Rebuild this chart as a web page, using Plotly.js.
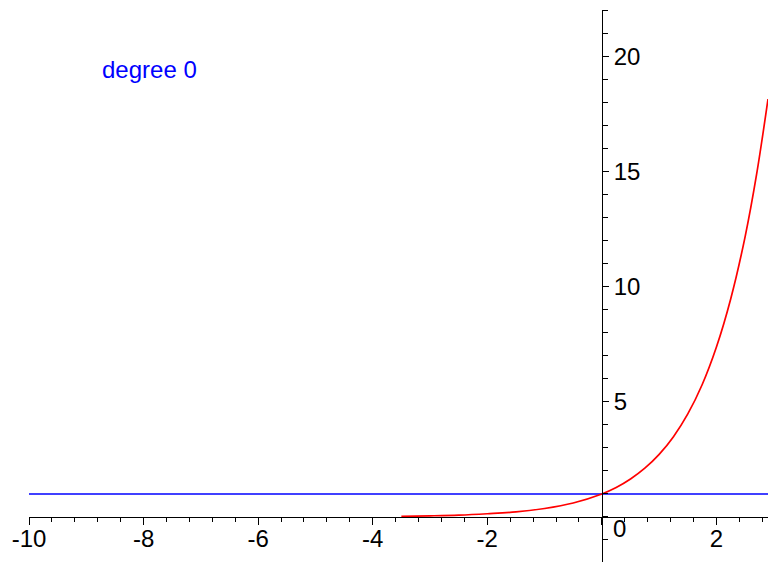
<!DOCTYPE html>
<html>
<head>
<meta charset="utf-8">
<script src="https://cdn.plot.ly/plotly-3.0.1.min.js"></script>
<style>html,body{margin:0;padding:0;background:#fff;}#chart{width:768px;height:562px;}</style>
</head>
<body>
<div id="chart"></div>
<script>
// exp(x) curve (red)
const expX = [-3.5, -3, -2.5, -2, -1.5, -1, -0.5, 0, 0.25, 0.5, 0.75, 1, 1.25, 1.5, 1.75, 2, 2.25, 2.5, 2.7, 2.9];
const expY = [0.03, 0.05, 0.08, 0.14, 0.22, 0.37, 0.61, 1, 1.28, 1.65, 2.12, 2.72, 3.49, 4.48, 5.75, 7.39, 9.49, 12.18, 14.88, 18.17];
// degree 0 Taylor polynomial (blue)
const polyX = [-10, 2.9];
const polyY = [1, 1];
// tick labels
const xTickVals = [-10, -8, -6, -4, -2, 0, 2];
const xTickText = ['-10', '-8', '-6', '-4', '-2', '', '2'];
const yTickVals = [5, 10, 15, 20];
const yTickText = ['5', '10', '15', '20'];
const legendLabel = 'degree 0';

const xRange = [-10, 2.9];
const yRange = [-1.957, 22.04];
const yZeroFrac = (0 - yRange[0]) / (yRange[1] - yRange[0]);
const xZeroFrac = (0 - xRange[0]) / (xRange[1] - xRange[0]);

const tickFont = {family: '"Liberation Sans", Arial, sans-serif', size: 24, color: '#000'};

const traces = [
  {x: polyX, y: polyY, mode: 'lines', line: {color: '#0000ff', width: 1.7}, hoverinfo: 'skip'},
  {x: expX, y: expY, mode: 'lines', line: {color: '#ff0000', width: 1.7, shape: 'spline'}, hoverinfo: 'skip'}
];

const layout = {
  width: 768, height: 562,
  margin: {l: 29, r: 0, t: 10, b: 0, pad: 0},
  paper_bgcolor: '#ffffff', plot_bgcolor: '#ffffff',
  showlegend: false,
  xaxis: {
    range: xRange, anchor: 'free', position: yZeroFrac,
    showgrid: false, zeroline: false,
    showline: true, linecolor: '#000', linewidth: 1,
    ticks: 'outside', ticklen: 7, tickcolor: '#000', tickwidth: 1,
    tickmode: 'array', tickvals: xTickVals, ticktext: xTickText,
    tickfont: tickFont, ticklabelstandoff: -7,
    minor: {ticks: 'outside', ticklen: 4, tickcolor: '#000', tick0: -10, dtick: 0.4, showgrid: false}
  },
  yaxis: {
    range: yRange, anchor: 'free', position: xZeroFrac, side: 'right',
    showgrid: false, zeroline: false,
    showline: true, linecolor: '#000', linewidth: 1,
    ticks: 'outside', ticklen: 6, tickcolor: '#000', tickwidth: 1,
    tickmode: 'array', tickvals: yTickVals, ticktext: yTickText,
    tickfont: tickFont, ticklabelstandoff: 0,
    minor: {ticks: 'outside', ticklen: 5, tickcolor: '#000', tick0: 0, dtick: 1, showgrid: false}
  },
  annotations: [
    {x: 0, y: 0, xref: 'x', yref: 'y', text: '0', showarrow: false,
     xanchor: 'left', yanchor: 'top', xshift: 9, yshift: 4, font: tickFont},
    {x: 0, y: 0, xref: 'paper', yref: 'paper', text: legendLabel, showarrow: false,
     xanchor: 'left', yanchor: 'middle', font: {family: '"Liberation Sans", Arial, sans-serif', size: 24, color: '#0000ff'}}
  ]
};
// place the label in paper fraction from pixel position
layout.annotations[1].x = (100 - 29) / (768 - 29);
layout.annotations[1].y = 1 - (69 - 10) / (562 - 10);

Plotly.newPlot('chart', traces, layout, {staticPlot: true, displayModeBar: false});
</script>
</body>
</html>
